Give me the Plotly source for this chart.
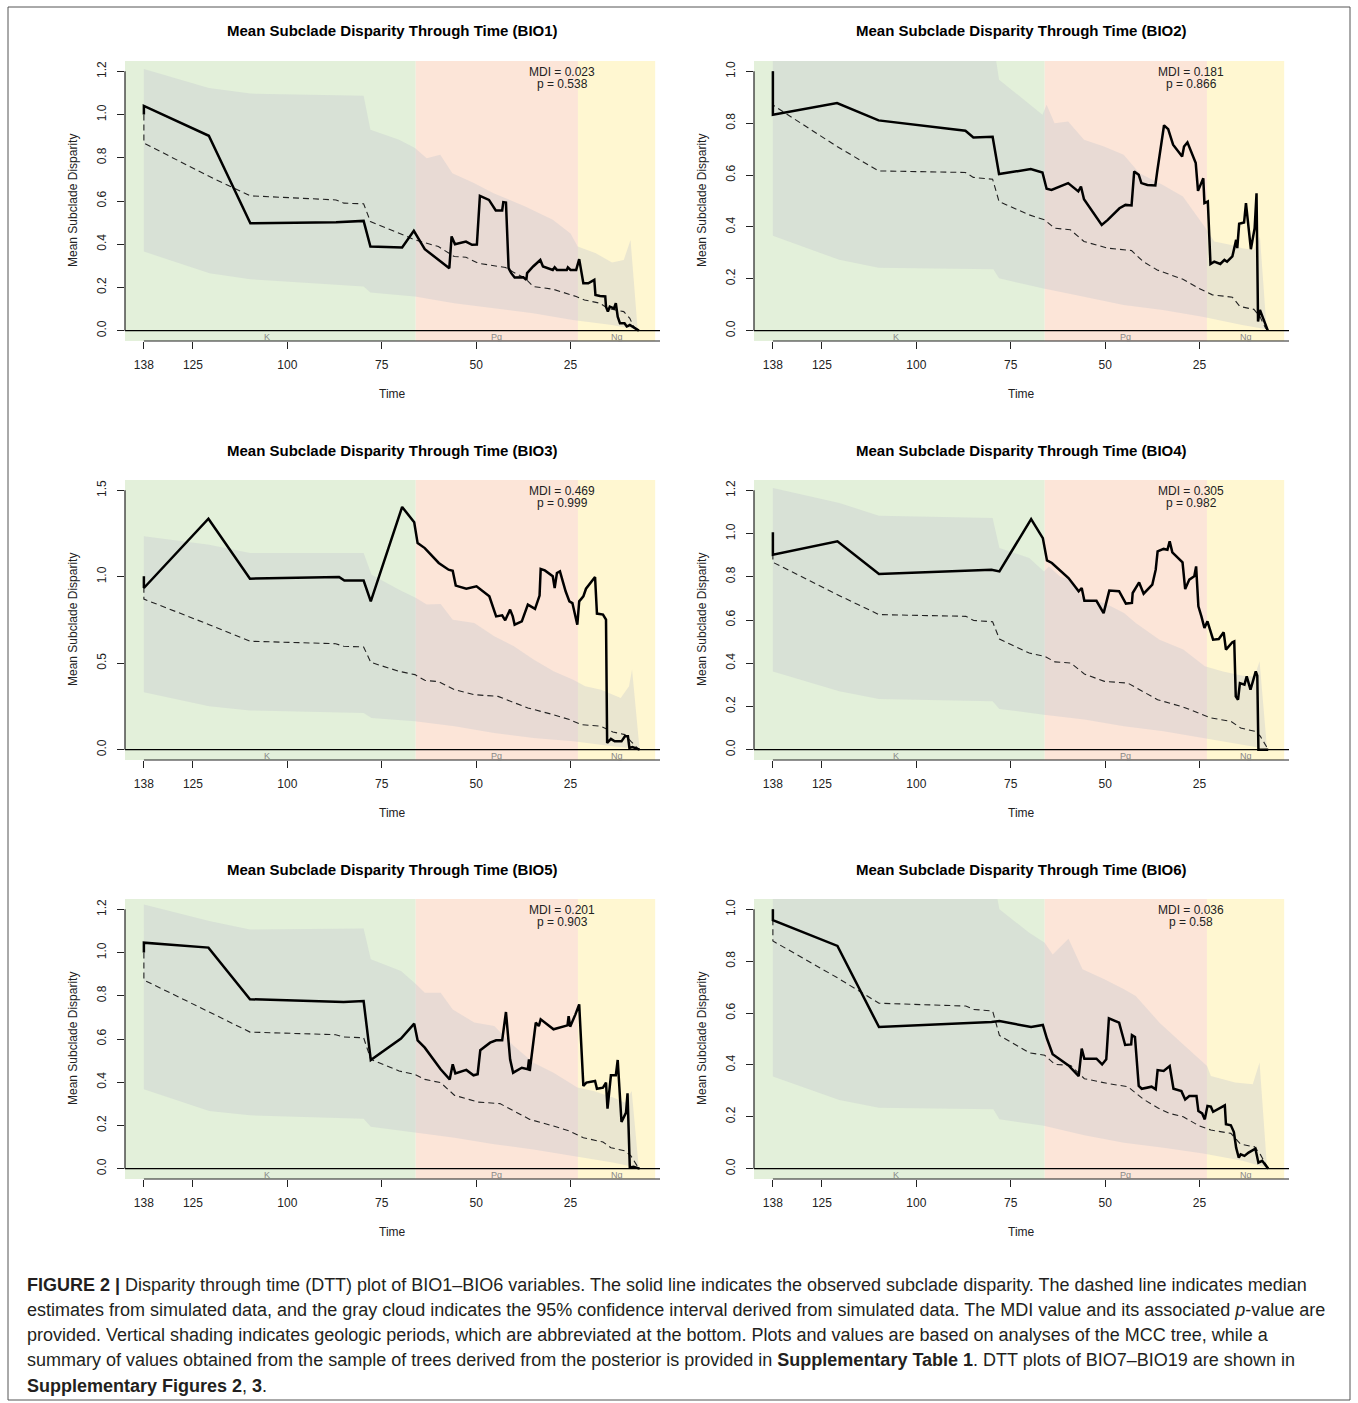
import plotly.graph_objects as go

W, H = 1358, 1403

# ---------------- data ----------------
titles = ["Mean Subclade Disparity Through Time (BIO1)", "Mean Subclade Disparity Through Time (BIO2)",
          "Mean Subclade Disparity Through Time (BIO3)", "Mean Subclade Disparity Through Time (BIO4)",
          "Mean Subclade Disparity Through Time (BIO5)", "Mean Subclade Disparity Through Time (BIO6)"]
mdi_values = ["0.023", "0.181", "0.469", "0.305", "0.201", "0.036"]
p_values = ["0.538", "0.866", "0.999", "0.982", "0.903", "0.58"]
x_tickvals = [138, 125, 100, 75, 50, 25]
y_ticks = [[0, 0.2, 0.4, 0.6, 0.8, 1.0, 1.2], [0, 0.2, 0.4, 0.6, 0.8, 1.0], [0, 0.5, 1.0, 1.5],
           [0, 0.2, 0.4, 0.6, 0.8, 1.0, 1.2], [0, 0.2, 0.4, 0.6, 0.8, 1.0, 1.2], [0, 0.2, 0.4, 0.6, 0.8, 1.0]]
y_ranges = [[-0.048, 1.248], [-0.04, 1.04], [-0.06, 1.56], [-0.048, 1.248], [-0.048, 1.248], [-0.04, 1.04]]
x_range = [143.0, 1.3]
periods = ["K", "Pg", "Ng"]
period_start = [143.0, 66.0, 23.03]
period_end = [66.0, 23.03, 2.58]
period_label_x = [105.5, 44.5, 12.8]

# BIO1
bio1_obs_t = [138, 138, 120.8, 109.8, 87.1, 79.8, 78.0, 69.6, 66.5, 63.6, 57.1, 56.5, 55.6, 52.7, 51.1, 49.8, 49.0, 46.6, 44.8, 43.1, 42.8, 42.1, 41.4, 40.7, 39.8, 37.5, 36.7, 36.5, 34.9, 33.0, 32.3, 29.7, 29.2, 28.6, 26.0, 25.7, 25.0, 23.5, 22.7, 21.6, 20.3, 18.7, 18.4, 17.2, 15.8, 15.6, 15.1, 14.6, 13.5, 13.0, 12.5, 11.9, 10.7, 10.1, 9.3, 8.3, 6.9]
bio1_obs_v = [1.0, 1.04, 0.902, 0.497, 0.502, 0.508, 0.389, 0.385, 0.462, 0.377, 0.289, 0.436, 0.400, 0.412, 0.397, 0.398, 0.624, 0.605, 0.556, 0.556, 0.595, 0.593, 0.289, 0.266, 0.246, 0.247, 0.235, 0.266, 0.297, 0.327, 0.297, 0.281, 0.293, 0.281, 0.281, 0.293, 0.281, 0.281, 0.331, 0.219, 0.219, 0.235, 0.165, 0.160, 0.158, 0.111, 0.088, 0.111, 0.103, 0.127, 0.065, 0.034, 0.034, 0.019, 0.026, 0.014, 0.0]
bio1_med_t = [138, 138, 120.6, 109.8, 87.1, 85.0, 79.8, 78.0, 70.4, 66.2, 60.0, 55.8, 52.7, 49.5, 42.2, 40.1, 37.0, 34.9, 29.7, 23.5, 21.3, 17.2, 15.1, 10.9, 9.3, 8.3, 6.9]
bio1_med_v = [1.0, 0.868, 0.713, 0.624, 0.605, 0.590, 0.587, 0.505, 0.451, 0.420, 0.389, 0.343, 0.340, 0.312, 0.292, 0.270, 0.242, 0.204, 0.192, 0.158, 0.142, 0.127, 0.103, 0.088, 0.057, 0.019, 0.0]
bio1_hi_t = [138, 120.8, 109.8, 79.8, 78.0, 70.4, 66.2, 63.1, 59.5, 56.3, 50.6, 45.4, 37.0, 29.7, 25.0, 23.1, 18.3, 14.0, 10.9, 9.1, 7.2]
bio1_hi_v = [1.211, 1.123, 1.097, 1.087, 0.930, 0.883, 0.845, 0.798, 0.814, 0.729, 0.683, 0.636, 0.575, 0.513, 0.450, 0.389, 0.358, 0.315, 0.327, 0.420, 0.0]
bio1_lo_t = [138, 120.6, 109.8, 79.8, 78.0, 66.2, 55.8, 45.4, 34.9, 24.4, 14.0, 7.2]
bio1_lo_v = [0.366, 0.266, 0.238, 0.204, 0.176, 0.158, 0.127, 0.103, 0.080, 0.049, 0.026, 0.003]

# BIO2
bio2_obs_t = [138, 138, 121.0, 110.0, 87.0, 84.9, 79.8, 78.1, 69.7, 66.6, 65.5, 64.2, 59.8, 57.1, 56.4, 55.6, 50.9, 49.3, 46.2, 44.6, 43.0, 42.3, 41.1, 40.4, 38.8, 36.7, 36.2, 34.4, 33.3, 32.0, 29.6, 29.1, 28.2, 26.0, 25.4, 24.0, 23.7, 22.8, 22.1, 21.1, 19.5, 18.4, 17.7, 16.3, 15.3, 15.0, 14.5, 13.2, 12.7, 11.4, 10.4, 9.9, 9.5, 9.0, 6.9]
bio2_obs_v = [1.0, 0.833, 0.878, 0.811, 0.771, 0.745, 0.748, 0.604, 0.623, 0.610, 0.547, 0.543, 0.569, 0.537, 0.556, 0.507, 0.408, 0.427, 0.472, 0.485, 0.483, 0.614, 0.601, 0.569, 0.562, 0.560, 0.614, 0.792, 0.777, 0.717, 0.672, 0.710, 0.726, 0.646, 0.539, 0.588, 0.492, 0.498, 0.257, 0.266, 0.257, 0.273, 0.266, 0.286, 0.350, 0.318, 0.412, 0.417, 0.492, 0.314, 0.395, 0.530, 0.035, 0.080, 0.0]
bio2_med_t = [138, 138, 121.0, 110.0, 87.0, 84.9, 79.8, 78.1, 70.2, 66.0, 63.4, 59.2, 55.6, 49.3, 43.0, 39.9, 36.2, 29.4, 25.2, 21.6, 16.3, 14.3, 10.6, 9.0, 7.5, 6.9]
bio2_med_v = [1.0, 0.870, 0.710, 0.616, 0.610, 0.591, 0.584, 0.498, 0.447, 0.427, 0.395, 0.389, 0.344, 0.318, 0.309, 0.266, 0.234, 0.198, 0.163, 0.138, 0.129, 0.093, 0.082, 0.054, 0.009, 0.0]
bio2_hi_t = [138, 121.0, 110.0, 79.8, 78.1, 66.6, 65.5, 63.4, 59.8, 55.6, 50.3, 45.1, 40.9, 34.7, 29.4, 23.7, 21.1, 16.9, 13.7, 10.6, 9.0, 7.2]
bio2_hi_v = [1.26, 1.17, 1.14, 1.13, 0.968, 0.833, 0.871, 0.800, 0.807, 0.736, 0.710, 0.678, 0.607, 0.562, 0.517, 0.402, 0.344, 0.331, 0.318, 0.311, 0.363, 0.0]
bio2_lo_t = [138, 120.4, 110.0, 79.6, 78.1, 66.6, 55.6, 45.1, 34.7, 24.2, 13.7, 7.2]
bio2_lo_v = [0.366, 0.273, 0.243, 0.237, 0.202, 0.163, 0.131, 0.099, 0.080, 0.054, 0.022, 0.005]

# BIO3
bio3_obs_t = [138, 138, 120.9, 109.9, 86.3, 84.9, 79.8, 77.9, 69.6, 66.4, 65.5, 63.6, 59.9, 57.3, 56.2, 55.4, 52.6, 49.9, 46.5, 44.7, 43.1, 42.3, 41.0, 40.3, 39.8, 37.9, 36.3, 34.4, 33.2, 32.9, 31.8, 29.7, 29.2, 28.6, 27.8, 26.3, 25.3, 24.5, 23.2, 22.7, 21.6, 20.9, 18.5, 18.0, 16.4, 15.6, 15.3, 14.3, 13.3, 11.5, 10.6, 9.8, 9.4, 8.6, 6.7]
bio3_obs_v = [1.003, 0.935, 1.336, 0.989, 0.999, 0.978, 0.978, 0.858, 1.404, 1.315, 1.195, 1.166, 1.080, 1.041, 1.035, 0.949, 0.931, 0.945, 0.887, 0.771, 0.777, 0.748, 0.810, 0.771, 0.723, 0.742, 0.839, 0.814, 0.891, 1.045, 1.037, 1.003, 0.935, 1.022, 1.031, 0.916, 0.858, 0.848, 0.723, 0.858, 0.887, 0.931, 0.999, 0.787, 0.781, 0.752, 0.039, 0.062, 0.048, 0.048, 0.077, 0.077, 0.010, 0.015, 0.0]
bio3_med_t = [138, 138, 120.7, 109.9, 87.2, 85.1, 79.8, 77.9, 70.4, 66.2, 63.6, 59.9, 55.7, 50.5, 44.2, 40.0, 36.3, 29.5, 25.3, 22.2, 16.9, 13.8, 10.6, 9.0, 6.9]
bio3_med_v = [1.0, 0.871, 0.723, 0.627, 0.613, 0.598, 0.594, 0.505, 0.453, 0.434, 0.401, 0.393, 0.347, 0.318, 0.308, 0.270, 0.241, 0.202, 0.174, 0.145, 0.135, 0.102, 0.087, 0.048, 0.0]
bio3_hi_t = [138, 120.7, 109.9, 79.8, 77.7, 70.4, 65.9, 63.1, 59.4, 56.2, 50.5, 45.2, 40.0, 34.8, 29.5, 24.3, 21.1, 16.9, 11.7, 9.5, 8.7, 6.7]
bio3_hi_v = [1.234, 1.186, 1.138, 1.138, 1.012, 0.925, 0.877, 0.839, 0.843, 0.752, 0.733, 0.656, 0.598, 0.521, 0.453, 0.405, 0.366, 0.347, 0.299, 0.366, 0.463, 0.0]
bio3_lo_t = [138, 120.7, 109.9, 79.8, 77.7, 66.2, 55.7, 45.2, 34.8, 24.3, 13.8, 6.9]
bio3_lo_v = [0.332, 0.251, 0.227, 0.212, 0.183, 0.164, 0.135, 0.096, 0.067, 0.048, 0.019, 0.004]

# BIO4
bio4_obs_t = [138, 138, 120.9, 109.9, 80.1, 78.0, 69.6, 66.5, 65.4, 64.1, 59.7, 57.0, 56.2, 55.5, 52.3, 50.4, 48.9, 46.3, 44.5, 42.9, 42.7, 41.0, 39.8, 37.5, 36.6, 36.1, 34.5, 33.5, 32.9, 32.2, 29.5, 28.8, 27.7, 26.4, 25.9, 25.3, 24.5, 23.7, 22.9, 21.4, 19.9, 18.6, 18.0, 16.3, 15.8, 15.4, 14.8, 14.3, 13.1, 12.5, 11.5, 10.1, 9.7, 9.4, 6.8]
bio4_obs_v = [1.006, 0.902, 0.964, 0.813, 0.833, 0.825, 1.067, 0.979, 0.876, 0.864, 0.794, 0.733, 0.748, 0.689, 0.689, 0.632, 0.736, 0.733, 0.676, 0.679, 0.725, 0.774, 0.722, 0.764, 0.833, 0.918, 0.929, 0.925, 0.964, 0.913, 0.867, 0.743, 0.787, 0.802, 0.848, 0.663, 0.617, 0.563, 0.594, 0.509, 0.512, 0.543, 0.463, 0.497, 0.501, 0.247, 0.231, 0.308, 0.301, 0.339, 0.278, 0.362, 0.342, 0.0, 0.0]
bio4_med_t = [138, 138, 120.9, 109.9, 86.9, 84.8, 79.8, 78.0, 70.1, 66.0, 63.3, 59.1, 55.5, 50.2, 44.0, 39.8, 36.1, 29.3, 25.1, 22.0, 16.7, 14.1, 10.4, 8.9, 6.8]
bio4_med_v = [1.0, 0.867, 0.717, 0.625, 0.617, 0.598, 0.592, 0.512, 0.447, 0.432, 0.406, 0.401, 0.350, 0.316, 0.308, 0.265, 0.231, 0.197, 0.170, 0.147, 0.131, 0.100, 0.085, 0.062, 0.0]
bio4_hi_t = [138, 120.4, 109.9, 79.8, 78.0, 70.1, 66.2, 64.9, 61.8, 59.1, 56.0, 50.2, 45.0, 41.9, 35.6, 29.3, 23.6, 18.8, 13.6, 10.4, 9.1, 7.1]
bio4_hi_v = [1.211, 1.141, 1.083, 1.072, 0.933, 0.887, 0.825, 0.848, 0.799, 0.787, 0.702, 0.679, 0.632, 0.586, 0.509, 0.463, 0.386, 0.362, 0.342, 0.339, 0.409, 0.0]
bio4_lo_t = [138, 120.4, 109.9, 79.8, 78.0, 66.2, 55.5, 45.0, 34.5, 24.0, 13.6, 7.1]
bio4_lo_v = [0.362, 0.270, 0.234, 0.224, 0.188, 0.162, 0.139, 0.108, 0.085, 0.054, 0.023, 0.003]

# BIO5
bio5_obs_t = [138, 138, 120.9, 109.9, 85.1, 79.8, 77.9, 69.9, 66.4, 65.5, 63.6, 59.4, 57.0, 56.2, 55.5, 52.6, 50.7, 49.6, 48.9, 46.3, 44.7, 43.1, 42.1, 41.0, 40.2, 37.9, 36.3, 36.0, 35.8, 34.2, 33.4, 32.9, 29.5, 27.4, 25.8, 25.5, 25.1, 23.7, 22.7, 21.6, 20.8, 18.5, 18.0, 16.4, 15.6, 15.2, 14.3, 13.0, 12.5, 11.5, 10.3, 9.9, 9.3, 8.3, 6.7]
bio5_obs_v = [1.0, 1.046, 1.023, 0.784, 0.771, 0.776, 0.503, 0.602, 0.671, 0.594, 0.560, 0.460, 0.413, 0.483, 0.441, 0.457, 0.432, 0.437, 0.548, 0.583, 0.594, 0.594, 0.725, 0.506, 0.444, 0.467, 0.460, 0.506, 0.452, 0.676, 0.660, 0.691, 0.645, 0.657, 0.663, 0.706, 0.657, 0.714, 0.760, 0.383, 0.398, 0.406, 0.370, 0.375, 0.398, 0.278, 0.432, 0.432, 0.503, 0.216, 0.259, 0.349, 0.005, 0.008, 0.0]
bio5_med_t = [138, 138, 120.7, 109.9, 87.2, 85.1, 79.8, 77.9, 70.4, 66.2, 63.6, 59.4, 55.7, 49.4, 43.7, 40.0, 35.8, 29.5, 25.3, 21.6, 16.4, 14.3, 10.6, 9.0, 6.9]
bio5_med_v = [1.0, 0.873, 0.725, 0.632, 0.620, 0.609, 0.606, 0.506, 0.452, 0.436, 0.413, 0.398, 0.339, 0.308, 0.301, 0.267, 0.228, 0.197, 0.174, 0.143, 0.123, 0.097, 0.082, 0.059, 0.0]
bio5_hi_t = [138, 120.7, 109.9, 79.8, 77.9, 69.9, 65.9, 63.6, 59.4, 56.2, 50.5, 45.2, 40.0, 34.8, 29.5, 23.2, 18.9, 13.7, 10.6, 8.8, 6.9]
bio5_hi_v = [1.223, 1.146, 1.107, 1.111, 0.969, 0.915, 0.853, 0.814, 0.814, 0.737, 0.676, 0.660, 0.568, 0.490, 0.444, 0.375, 0.359, 0.329, 0.305, 0.359, 0.0]
bio5_lo_t = [138, 120.7, 109.9, 79.8, 77.9, 66.2, 55.7, 45.2, 34.8, 24.3, 13.8, 6.9]
bio5_lo_v = [0.367, 0.267, 0.247, 0.231, 0.194, 0.167, 0.143, 0.113, 0.089, 0.059, 0.028, 0.003]

# BIO6
bio6_obs_t = [138, 138, 120.9, 109.9, 80.1, 78.0, 69.6, 66.5, 65.4, 63.9, 59.7, 57.0, 56.2, 55.5, 52.3, 50.8, 49.7, 49.0, 46.3, 44.7, 43.1, 42.9, 42.1, 41.1, 40.3, 37.7, 36.6, 36.1, 34.5, 32.9, 31.9, 29.8, 28.8, 27.7, 25.8, 25.3, 24.3, 23.6, 22.9, 22.0, 21.4, 18.3, 18.0, 16.7, 15.9, 15.3, 14.6, 14.1, 13.1, 12.0, 10.2, 9.4, 8.4, 6.8]
bio6_obs_v = [1.0, 0.958, 0.859, 0.546, 0.566, 0.569, 0.546, 0.554, 0.501, 0.441, 0.398, 0.357, 0.463, 0.424, 0.424, 0.402, 0.422, 0.580, 0.563, 0.477, 0.479, 0.515, 0.508, 0.319, 0.308, 0.316, 0.306, 0.380, 0.377, 0.396, 0.308, 0.299, 0.267, 0.280, 0.280, 0.222, 0.213, 0.190, 0.242, 0.239, 0.219, 0.244, 0.171, 0.167, 0.141, 0.081, 0.042, 0.055, 0.049, 0.062, 0.077, 0.023, 0.030, 0.0]
bio6_med_t = [138, 138, 120.9, 109.9, 86.9, 84.8, 79.8, 78.0, 70.1, 66.0, 63.3, 59.1, 55.5, 49.2, 44.0, 39.8, 36.1, 33.0, 29.3, 25.1, 22.0, 16.7, 14.1, 10.4, 8.9, 6.8]
bio6_med_v = [1.0, 0.878, 0.736, 0.638, 0.627, 0.614, 0.608, 0.514, 0.447, 0.437, 0.402, 0.398, 0.347, 0.328, 0.316, 0.267, 0.235, 0.213, 0.200, 0.165, 0.149, 0.136, 0.094, 0.084, 0.055, 0.0]
bio6_hi_t = [138, 120.9, 109.9, 79.8, 78.0, 70.1, 66.0, 63.9, 59.7, 56.0, 50.2, 45.0, 41.9, 35.6, 29.3, 23.0, 22.0, 15.6, 10.9, 9.1, 7.1]
bio6_hi_v = [1.26, 1.18, 1.15, 1.14, 1.0, 0.910, 0.871, 0.826, 0.887, 0.769, 0.730, 0.692, 0.666, 0.563, 0.479, 0.396, 0.357, 0.332, 0.325, 0.409, 0.0]
bio6_lo_t = [138, 120.4, 109.9, 79.6, 78.0, 66.2, 55.5, 45.0, 34.5, 24.0, 13.6, 7.1]
bio6_lo_v = [0.355, 0.265, 0.235, 0.229, 0.190, 0.165, 0.129, 0.100, 0.081, 0.058, 0.030, 0.003]

caption_lines = [
    "<b>FIGURE 2 |</b> Disparity through time (DTT) plot of BIO1\u2013BIO6 variables. The solid line indicates the observed subclade disparity. The dashed line indicates median",
    "estimates from simulated data, and the gray cloud indicates the 95% confidence interval derived from simulated data. The MDI value and its associated <i>p</i>-value are",
    "provided. Vertical shading indicates geologic periods, which are abbreviated at the bottom. Plots and values are based on analyses of the MCC tree, while a",
    "summary of values obtained from the sample of trees derived from the posterior is provided in <b>Supplementary Table 1</b>. DTT plots of BIO7\u2013BIO19 are shown in",
    "<b>Supplementary Figures 2</b>, <b>3</b>.",
]

# ---------------- styling / layout ----------------
FONT = "Liberation Sans, Arial, Helvetica, sans-serif"
CAP_FONT = "Liberation Sans, Arial, sans-serif"
period_colors = ["#E3F0DA", "#FCE5D8", "#FFF7D1"]
cloud_color = "rgba(195,198,205,0.35)"

obs_t = [bio1_obs_t, bio2_obs_t, bio3_obs_t, bio4_obs_t, bio5_obs_t, bio6_obs_t]
obs_v = [bio1_obs_v, bio2_obs_v, bio3_obs_v, bio4_obs_v, bio5_obs_v, bio6_obs_v]
med_t = [bio1_med_t, bio2_med_t, bio3_med_t, bio4_med_t, bio5_med_t, bio6_med_t]
med_v = [bio1_med_v, bio2_med_v, bio3_med_v, bio4_med_v, bio5_med_v, bio6_med_v]
hi_t = [bio1_hi_t, bio2_hi_t, bio3_hi_t, bio4_hi_t, bio5_hi_t, bio6_hi_t]
hi_v = [bio1_hi_v, bio2_hi_v, bio3_hi_v, bio4_hi_v, bio5_hi_v, bio6_hi_v]
lo_t = [bio1_lo_t, bio2_lo_t, bio3_lo_t, bio4_lo_t, bio5_lo_t, bio6_lo_t]
lo_v = [bio1_lo_v, bio2_lo_v, bio3_lo_v, bio4_lo_v, bio5_lo_v, bio6_lo_v]

col_left = [125, 754]
plot_w = 535
row_top = [61, 480, 899]
plot_h = 280


def px(x):
    return x / W


def py(y):
    return 1 - y / H


fig = go.Figure()
shapes = []
annotations = []
layout = {}

for i in range(6):
    r, c = divmod(i, 2)
    k = i + 1
    xa = "x" if k == 1 else f"x{k}"
    ya = "y" if k == 1 else f"y{k}"
    x0p, x1p = col_left[c], col_left[c] + plot_w
    y0p, y1p = row_top[r], row_top[r] + plot_h

    # cloud
    fig.add_trace(go.Scatter(x=hi_t[i] + lo_t[i][::-1], y=hi_v[i] + lo_v[i][::-1], fill="toself",
                             fillcolor=cloud_color, line=dict(width=0), mode="lines",
                             hoverinfo="skip", showlegend=False, xaxis=xa, yaxis=ya))
    fig.add_trace(go.Scatter(x=med_t[i], y=med_v[i], mode="lines",
                             line=dict(color="#222", width=1.1, dash="6px,4px"),
                             showlegend=False, xaxis=xa, yaxis=ya))
    fig.add_trace(go.Scatter(x=obs_t[i], y=obs_v[i], mode="lines",
                             line=dict(color="black", width=2.5),
                             showlegend=False, xaxis=xa, yaxis=ya))

    xkey = "xaxis" if k == 1 else f"xaxis{k}"
    ykey = "yaxis" if k == 1 else f"yaxis{k}"
    layout[xkey] = dict(domain=[px(x0p), px(x1p)], range=x_range, anchor=ya,
                        tickmode="array", tickvals=x_tickvals, ticks="outside", ticklen=7,
                        tickcolor="#222", tickwidth=1, showgrid=False, zeroline=False, showline=False,
                        tickfont=dict(family=FONT, size=12, color="#222"), ticklabelstandoff=6)
    layout[ykey] = dict(domain=[py(y1p), py(y0p)], range=y_ranges[i], anchor=xa,
                        tickmode="array", tickvals=y_ticks[i], tickformat=".1f", tickangle=-90,
                        ticks="outside", ticklen=7, tickcolor="#222", tickwidth=1,
                        showgrid=False, zeroline=False, showline=False,
                        tickfont=dict(family=FONT, size=12, color="#222"), ticklabelstandoff=6)

    # geologic period shading
    for j in range(3):
        shapes.append(dict(type="rect", xref=xa, yref=f"{ya} domain", x0=period_start[j], x1=period_end[j],
                           y0=0, y1=1, fillcolor=period_colors[j], line=dict(width=0), layer="below"))
        annotations.append(dict(text=periods[j], x=period_label_x[j], xref=xa, y=0.016, yref=f"{ya} domain",
                                showarrow=False, font=dict(family=FONT, size=9, color="#888"),
                                xanchor="center", yanchor="middle"))
    # zero line
    shapes.append(dict(type="line", xref=f"{xa} domain", yref=ya, x0=0, x1=1, y0=0, y1=0,
                       line=dict(color="black", width=1.2), layer="above"))
    # x axis line (from first tick to right edge)
    shapes.append(dict(type="line", xref=xa, yref=f"{ya} domain", x0=x_tickvals[0], x1=x_range[1],
                       y0=0, y1=0, line=dict(color="#222", width=1.2), layer="above"))
    # y axis line
    shapes.append(dict(type="line", xref=f"{xa} domain", yref=ya, x0=0, x1=0, y0=y_ticks[i][0],
                       y1=y_ticks[i][-1], line=dict(color="#222", width=1.2), layer="above"))

    cx = (x0p + x1p) / 2
    annotations.append(dict(text=f"<b>{titles[i]}</b>", x=px(cx), y=py(31 + 419 * r), xref="paper",
                            yref="paper", showarrow=False, xanchor="center", yanchor="middle",
                            font=dict(family=FONT, size=15, color="black")))
    annotations.append(dict(text="Time", x=px(cx), y=py(394 + 419 * r), xref="paper", yref="paper",
                            showarrow=False, xanchor="center", yanchor="middle",
                            font=dict(family=FONT, size=12, color="#222")))
    annotations.append(dict(text="Mean Subclade Disparity", x=px(73 + 629 * c), y=py(201 + 419 * r),
                            xref="paper", yref="paper", showarrow=False, textangle=-90,
                            xanchor="center", yanchor="middle",
                            font=dict(family=FONT, size=12, color="#222")))
    annotations.append(dict(text=f"MDI = {mdi_values[i]}", x=px(562 + 629 * c), y=py(72 + 419 * r),
                            xref="paper", yref="paper", showarrow=False, xanchor="center",
                            yanchor="middle", font=dict(family=FONT, size=12, color="#222")))
    annotations.append(dict(text=f"p = {p_values[i]}", x=px(562 + 629 * c), y=py(84 + 419 * r),
                            xref="paper", yref="paper", showarrow=False, xanchor="center",
                            yanchor="middle", font=dict(family=FONT, size=12, color="#222")))

cap_y = [1285, 1310, 1335, 1360, 1386]
for line, yy in zip(caption_lines, cap_y):
    annotations.append(dict(text=line, x=px(25), y=py(yy), xref="paper", yref="paper", showarrow=False,
                            xanchor="left", yanchor="middle", align="left",
                            font=dict(family=CAP_FONT, size=18, color="#231F20")))

# outer frame
shapes.append(dict(type="rect", xref="paper", yref="paper", x0=px(8), x1=px(1350), y0=py(1400), y1=py(7),
                   line=dict(color="#555", width=1), fillcolor="rgba(0,0,0,0)", layer="above"))

fig.update_layout(width=W, height=H, margin=dict(l=0, r=0, t=0, b=0), paper_bgcolor="white",
                  plot_bgcolor="white", shapes=shapes, annotations=annotations, showlegend=False,
                  **layout)
fig.write_html("out.html")
